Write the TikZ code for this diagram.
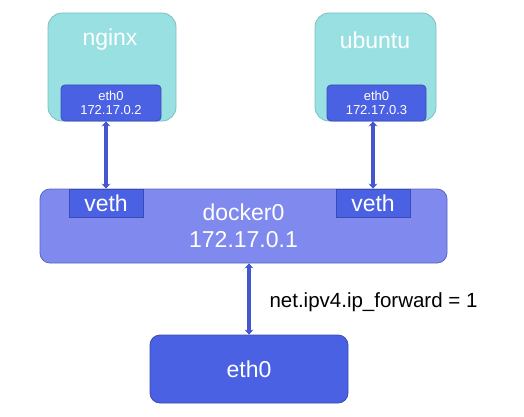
\documentclass[tikz,border=0pt]{standalone}
\usepackage{fontspec}
\setmainfont{Liberation Sans}
\usetikzlibrary{arrows.meta}

\definecolor{cyanfill}{HTML}{98E0E2}
\definecolor{cyanline}{HTML}{7CBFC2}
\definecolor{ethfill}{HTML}{4B61E3}
\definecolor{ethline}{HTML}{3A4BB5}
\definecolor{dockfill}{HTML}{7F89EE}
\definecolor{dockline}{HTML}{5A66C8}
\definecolor{linkblue}{HTML}{4656CF}

\tikzset{
  container/.style={draw=cyanline,fill=cyanfill,line width=0.8pt,rounded corners=14pt,inner sep=0pt},
  iface/.style={draw=ethline,fill=ethfill,line width=0.8pt,rounded corners=4pt,inner sep=0pt,text=white,align=center},
  bridge/.style={draw=dockline,fill=dockfill,line width=0.8pt,rounded corners=10pt,inner sep=0pt,text=white,align=center},
  bigtext/.style={font=\fontsize{23}{27}\selectfont},
  smalltext/.style={font=\fontsize{13}{14}\selectfont},
  link/.style={draw=linkblue,line width=3.6pt,{Stealth[length=5pt,width=9pt]}-{Stealth[length=5pt,width=9pt]}}
}

\begin{document}
\begin{tikzpicture}[x=1pt,y=-1pt]
  \useasboundingbox (0,0) rectangle (524,417);

  % Containers
  \node[container,minimum width=128pt,minimum height=108pt] (nginx) at (112,67) {};
  \node[bigtext,text=white] (nginxname) at (110,40) {nginx};
  \node[iface,smalltext,minimum width=100pt,minimum height=36pt] (nginxeth) at (111,103) {eth0\\172.17.0.2};

  \node[container,minimum width=121pt,minimum height=108pt] (ubuntu) at (375.5,67) {};
  \node[bigtext,text=white] (ubuntuname) at (375,40) {ubuntu};
  \node[iface,smalltext,minimum width=99pt,minimum height=36pt] (ubuntueth) at (376.5,103) {eth0\\172.17.0.3};

  % Bridge
  \node[bridge,bigtext,minimum width=407pt,minimum height=74pt] (docker) at (243.5,226) {docker0\\172.17.0.1};
  \node[iface,bigtext,rounded corners=0pt,minimum width=74pt,minimum height=28pt] (lveth) at (106,203) {veth};
  \node[iface,bigtext,rounded corners=0pt,minimum width=74pt,minimum height=28pt] (rveth) at (373,203) {veth};

  % Host
  \node[iface,bigtext,rounded corners=10pt,minimum width=198pt,minimum height=68pt] (host) at (249,369) {eth0};

  % Links
  \draw[link] (lveth.north) -- (lveth.north |- nginxeth.south);
  \draw[link] (rveth.north) -- (rveth.north |- ubuntueth.south);
  \draw[link] (host.north) -- (host.north |- docker.south);
  \node[anchor=west,font=\fontsize{20.5}{24}\selectfont] (fwd) at (266,302) {net.ipv4.ip\_forward = 1};
\end{tikzpicture}
\end{document}
